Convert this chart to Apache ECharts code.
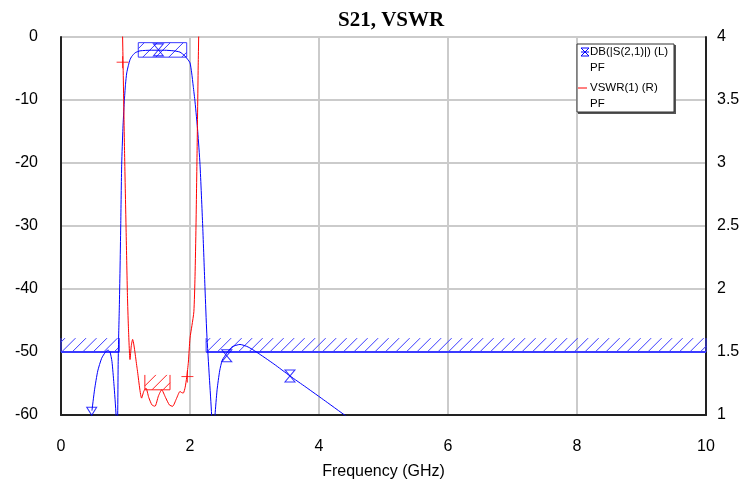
<!DOCTYPE html>
<html>
<head>
<meta charset="utf-8">
<script src="https://cdn.jsdelivr.net/npm/echarts@6/dist/echarts.min.js"></script>
<style>
  html, body { margin: 0; padding: 0; background: #fff; }
</style>
</head>
<body>
<div id="main" style="width: 756px;height:485px;"></div>
<script type="text/javascript">
// S21 (dB) trace, left axis
var s21Freq = [0.48, 0.52, 0.57, 0.63, 0.69, 0.73, 0.76, 0.79, 0.82, 0.853, 0.865, 0.872, 0.879, 0.886,
  0.895, 0.904, 0.915, 0.926, 0.941, 0.96, 0.981, 1.0, 1.019, 1.045, 1.07, 1.096, 1.15, 1.225, 1.4,
  1.6, 1.75, 1.845, 1.92, 1.96, 2.0, 2.026, 2.05, 2.078, 2.12, 2.155, 2.197, 2.233, 2.26, 2.3, 2.335,
  2.35, 2.365, 2.388, 2.42, 2.46, 2.5, 2.57, 2.65, 2.775, 2.9, 3.03, 3.3, 3.55, 3.8, 4.1, 4.45];
var s21Db = [-59.3, -56, -53, -51, -50, -49.7, -50, -51.5, -55, -60, -68, -68, -60, -52,
  -47, -43, -37, -30, -20.2, -14.5, -10.3, -7.5, -5.7, -4.5, -3.6, -3.1, -2.5, -2.2, -2.1,
  -2.1, -2.2, -2.4, -3.0, -3.5, -4.1, -5.7, -7.8, -10.3, -15, -20.2, -30, -40, -47, -54, -60,
  -66, -64, -60, -56, -53, -51.3, -50.2, -49.2, -48.8, -49.2, -50, -51.9, -53.8, -55.6, -57.8, -60.4];

// VSWR trace, right axis
var vswrFreq = [0.945, 0.962, 0.985, 1.008, 1.03, 1.045, 1.07, 1.09, 1.11, 1.18, 1.25, 1.285, 1.318,
  1.36, 1.41, 1.457, 1.51, 1.561, 1.62, 1.68, 1.73, 1.79, 1.845, 1.87, 1.896, 1.925, 1.949, 1.975,
  2.0, 2.03, 2.06, 2.078, 2.093, 2.11, 2.128, 2.145];
var vswrVal = [4.3, 3.8, 3.1, 2.5, 1.95, 1.7, 1.44, 1.55, 1.6, 1.37, 1.134, 1.19, 1.213,
  1.14, 1.08, 1.069, 1.15, 1.2, 1.14, 1.08, 1.069, 1.13, 1.187, 1.178, 1.174, 1.22, 1.3, 1.42,
  1.61, 1.71, 1.82, 2.1, 2.5, 3.1, 3.8, 4.3];

// markers
var s21MarkFreq = [1.51, 2.57, 3.55];
var s21MarkDb = [-2.05, -50.6, -53.8];
var s21StartFreq = [0.476];
var s21StartDb = [-59.4];
var vswrMarkFreq = [0.955, 1.96];
var vswrMarkVal = [3.8, 1.305];

// limit masks: [fromGHz, toGHz, low, high]
var s21StopMasks = [[0, 0.904, -50, -47.8], [2.25, 10, -50, -47.8]];
var s21PassMask = [[1.198, 1.949, -3.2, -0.9]];
var vswrMask = [[1.3, 1.69, 1.2, 1.318]];

var xTicks = [0, 2, 4, 6, 8, 10];

function zip(a, b) {
  return a.map(function (v, i) { return [v, b[i]]; });
}

function hatch(opts) {
  return function (params, api) {
    var tl = api.coord([api.value(0), api.value(3)]);
    var br = api.coord([api.value(1), api.value(2)]);
    var L = tl[0], T = tl[1], R = br[0], B = br[1];
    var h = B - T;
    var kids = [];
    var st = { stroke: opts.color, lineWidth: 1, fill: null };
    for (var c = L - h + opts.offset; c < R; c += opts.gap) {
      var x1 = c, y1 = B, x2 = c + h, y2 = T;
      if (x1 < L) { y1 = B - (L - x1); x1 = L; }
      if (x2 > R) { y2 = T + (x2 - R); x2 = R; }
      if (x2 <= x1) continue;
      kids.push({ type: 'line', shape: { x1: x1, y1: y1, x2: x2, y2: y2 }, style: st });
    }
    kids.push({ type: 'line', shape: { x1: L, y1: T, x2: L, y2: B }, style: st });
    kids.push({ type: 'line', shape: { x1: R, y1: T, x2: R, y2: B }, style: st });
    kids.push({ type: 'line', shape: { x1: L, y1: B, x2: R, y2: B },
      style: { stroke: opts.color, lineWidth: opts.baseWidth, fill: null } });
    if (opts.box) {
      kids.push({ type: 'line', shape: { x1: L, y1: T, x2: R, y2: T }, style: st });
    }
    return { type: 'group', children: kids };
  };
}

var hourglass = 'path://M0,0L10,0L0,12L10,12Z';
var downTri = 'path://M0,0L10,0L5,8Z';
var plus = 'path://M0,6L12,6M6,0L6,12';

var myChart = echarts.init(document.getElementById('main'));

var option = {
  animation: false,
  backgroundColor: '#fff',
  title: {
    text: 'S21, VSWR',
    left: 333,
    top: 5,
    textStyle: { fontFamily: 'Liberation Serif', fontWeight: 'bold', fontSize: 21, color: '#000' }
  },
  grid: {
    left: 61, right: 50, top: 37, bottom: 68,
    show: true, borderColor: '#000', borderWidth: 1
  },
  xAxis: {
    type: 'value', min: 0, max: 10, interval: 2,
    name: 'Frequency (GHz)', nameLocation: 'middle', nameGap: 49,
    nameTextStyle: { fontFamily: 'Liberation Sans', fontSize: 16, color: '#000' },
    axisLine: { show: true, onZero: false, lineStyle: { color: '#222', width: 2 } },
    axisTick: { show: false },
    axisLabel: { fontFamily: 'Liberation Sans', fontSize: 16, color: '#000', margin: 24,
      formatter: function (v) { return xTicks.indexOf(v) >= 0 ? String(v) : ''; } },
    splitLine: { show: true, lineStyle: { color: '#cbcbcb', width: 2 } }
  },
  yAxis: [{
    type: 'value', min: -60, max: 0, interval: 10, position: 'left',
    axisLine: { show: true, onZero: false, lineStyle: { color: '#222', width: 2 } },
    axisTick: { show: false },
    axisLabel: { fontFamily: 'Liberation Sans', fontSize: 16, color: '#000', margin: 23 },
    splitLine: { show: true, lineStyle: { color: '#cbcbcb', width: 2 } }
  }, {
    type: 'value', min: 1, max: 4, interval: 0.5, position: 'right',
    axisLine: { show: true, onZero: false, lineStyle: { color: '#222', width: 2 } },
    axisTick: { show: false },
    axisLabel: { fontFamily: 'Liberation Sans', fontSize: 16, color: '#000', margin: 11 },
    splitLine: { show: false }
  }],
  graphic: [
    { type: 'rect', shape: { x: 578, y: 45, width: 98, height: 69 }, style: { fill: '#555' }, z: 100 },
    { type: 'rect', shape: { x: 577, y: 44, width: 97, height: 68 }, style: { fill: '#fff', stroke: '#333', lineWidth: 1 }, z: 101 },
    { type: 'polygon', shape: { points: [[581, 48], [589, 48], [581, 56], [589, 56]] },
      style: { fill: null, stroke: '#0000ff', lineWidth: 1 }, z: 102 },
    { type: 'line', shape: { x1: 581, y1: 52, x2: 589, y2: 52 }, style: { stroke: '#0000ff', lineWidth: 1 }, z: 102 },
    { type: 'text', x: 590, y: 52, style: { text: 'DB(|S(2,1)|) (L)', font: '11.5px "Liberation Sans"', fill: '#000', verticalAlign: 'middle' }, z: 102 },
    { type: 'text', x: 590, y: 68, style: { text: 'PF', font: '11.5px "Liberation Sans"', fill: '#000', verticalAlign: 'middle' }, z: 102 },
    { type: 'line', shape: { x1: 578, y1: 88, x2: 587, y2: 88 }, style: { stroke: '#ff0000', lineWidth: 1 }, z: 102 },
    { type: 'text', x: 590, y: 88, style: { text: 'VSWR(1) (R)', font: '11.5px "Liberation Sans"', fill: '#000', verticalAlign: 'middle' }, z: 102 },
    { type: 'text', x: 590, y: 104, style: { text: 'PF', font: '11.5px "Liberation Sans"', fill: '#000', verticalAlign: 'middle' }, z: 102 }
  ],
  series: [
    {
      name: 'stop mask', type: 'custom', yAxisIndex: 0,
      renderItem: hatch({ color: '#3a3aff', gap: 10.5, offset: 4, baseWidth: 2, box: false }),
      encode: { x: [0, 1], y: [2, 3] },
      data: s21StopMasks, z: 3, silent: true
    },
    {
      name: 'pass mask', type: 'custom', yAxisIndex: 0,
      renderItem: hatch({ color: '#3a3aff', gap: 13, offset: 6, baseWidth: 1, box: true }),
      encode: { x: [0, 1], y: [2, 3] },
      data: s21PassMask, z: 3, silent: true
    },
    {
      name: 'vswr mask', type: 'custom', yAxisIndex: 1,
      renderItem: hatch({ color: '#ff2020', gap: 11, offset: 0, baseWidth: 1, box: false }),
      encode: { x: [0, 1], y: [2, 3] },
      data: vswrMask, z: 3, silent: true
    },
    {
      name: 'DB(|S(2,1)|) (L)', type: 'line', yAxisIndex: 0,
      data: zip(s21Freq, s21Db), showSymbol: false, smooth: 0.2, clip: true,
      lineStyle: { color: '#0000ff', width: 1 }, z: 4
    },
    {
      name: 'VSWR(1) (R)', type: 'line', yAxisIndex: 1,
      data: zip(vswrFreq, vswrVal), showSymbol: false, smooth: 0.2, clip: true,
      lineStyle: { color: '#ff0000', width: 1 }, z: 4
    },
    {
      name: 's21 marks', type: 'scatter', yAxisIndex: 0,
      data: zip(s21MarkFreq, s21MarkDb), symbol: hourglass, symbolSize: [10, 12],
      itemStyle: { color: 'rgba(0,0,0,0)', borderColor: '#0000ff', borderWidth: 1 }, z: 5, silent: true
    },
    {
      name: 's21 start', type: 'scatter', yAxisIndex: 0,
      data: zip(s21StartFreq, s21StartDb), symbol: downTri, symbolSize: [10, 8],
      itemStyle: { color: 'rgba(0,0,0,0)', borderColor: '#0000ff', borderWidth: 1 }, z: 5, silent: true
    },
    {
      name: 'vswr marks', type: 'scatter', yAxisIndex: 1,
      data: zip(vswrMarkFreq, vswrMarkVal), symbol: plus, symbolSize: [12, 12],
      itemStyle: { color: 'rgba(0,0,0,0)', borderColor: '#ff0000', borderWidth: 1 }, z: 5, silent: true
    }
  ]
};

myChart.setOption(option);
</script>
</body>
</html>
